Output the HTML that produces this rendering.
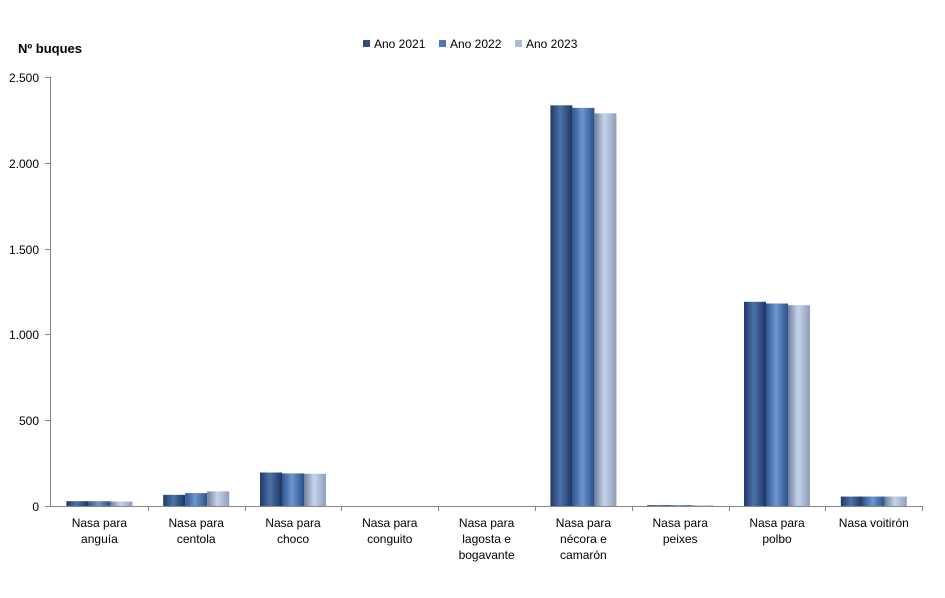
<!DOCTYPE html>
<html><head><meta charset="utf-8"><style>body{margin:0;background:#fff}svg{font-family:"Liberation Sans",sans-serif}</style></head>
<body>
<svg width="945" height="593" xmlns="http://www.w3.org/2000/svg">
<defs>
<linearGradient id="g1" x1="0" x2="1"><stop offset="0" stop-color="#1f3a66"/><stop offset="0.45" stop-color="#4a72aa"/><stop offset="1" stop-color="#1e3560"/></linearGradient>
<linearGradient id="g2" x1="0" x2="1"><stop offset="0" stop-color="#2d5590"/><stop offset="0.45" stop-color="#6c96cf"/><stop offset="1" stop-color="#2c5088"/></linearGradient>
<linearGradient id="g3" x1="0" x2="1"><stop offset="0" stop-color="#6f7f9c"/><stop offset="0.45" stop-color="#c6d3ea"/><stop offset="1" stop-color="#8e9dbb"/></linearGradient>
</defs>
<text x="18" y="53" font-size="13" font-weight="bold" fill="#000">Nº  buques</text>
<rect x="363" y="40" width="7" height="7" fill="#2f4f80"/><text x="374" y="48" font-size="12">Ano 2021</text>
<rect x="439" y="40" width="7" height="7" fill="#4a78b8"/><text x="450" y="48" font-size="12">Ano 2022</text>
<rect x="515" y="40" width="7" height="7" fill="#aab9d6"/><text x="526" y="48" font-size="12">Ano 2023</text>
<g stroke="#888" stroke-width="1">
<line x1="50.5" y1="77" x2="50.5" y2="506"/>
<line x1="50" y1="506.5" x2="922" y2="506.5"/>
<line x1="45" y1="77.5" x2="50" y2="77.5"/><line x1="45" y1="163.5" x2="50" y2="163.5"/><line x1="45" y1="249.5" x2="50" y2="249.5"/><line x1="45" y1="334.5" x2="50" y2="334.5"/><line x1="45" y1="420.5" x2="50" y2="420.5"/><line x1="45" y1="506.5" x2="50" y2="506.5"/>
</g>
<g font-size="12" text-anchor="end">
<text x="39" y="82">2.500</text><text x="39" y="168">2.000</text><text x="39" y="254">1.500</text><text x="39" y="339">1.000</text><text x="39" y="425">500</text><text x="39" y="511">0</text>
</g>
<g id="bars"></g>
<g id="cats" stroke="#888"></g>
<g id="labels" font-size="12" text-anchor="middle"></g>
<script>
var vals=[[28,28,26],[65,75,85],[195,190,188],[0,0,0],[0,0,0],[2335,2320,2288],[5,5,4],[1190,1180,1170],[55,55,55]];
var labs=[["Nasa para","anguía"],["Nasa para","centola"],["Nasa para","choco"],["Nasa para","conguito"],["Nasa para","lagosta e","bogavante"],["Nasa para","nécora e","camarón"],["Nasa para","peixes"],["Nasa para","polbo"],["Nasa voitirón"]];
var ns="http://www.w3.org/2000/svg",w=96.8,s=429/2500;
function el(t,a,p){var e=document.createElementNS(ns,t);for(var k in a)e.setAttribute(k,a[k]);document.getElementById(p).appendChild(e);return e;}
for(var i=0;i<9;i++){var c=51+(i+0.5)*w;
for(var j=0;j<3;j++){var h=vals[i][j]*s;if(h>0)el("rect",{x:c-33+j*22,y:506-h,width:22,height:h,fill:"url(#g"+(j+1)+")"},"bars");}
var bx=Math.round(51+(i+1)*w)+0.5;el("line",{x1:bx,y1:506,x2:bx,y2:511},"cats");
labs[i].forEach(function(l,k){var t=el("text",{x:c,y:527+k*16},"labels");t.textContent=l;});}
</script>
</svg>
</body></html>
